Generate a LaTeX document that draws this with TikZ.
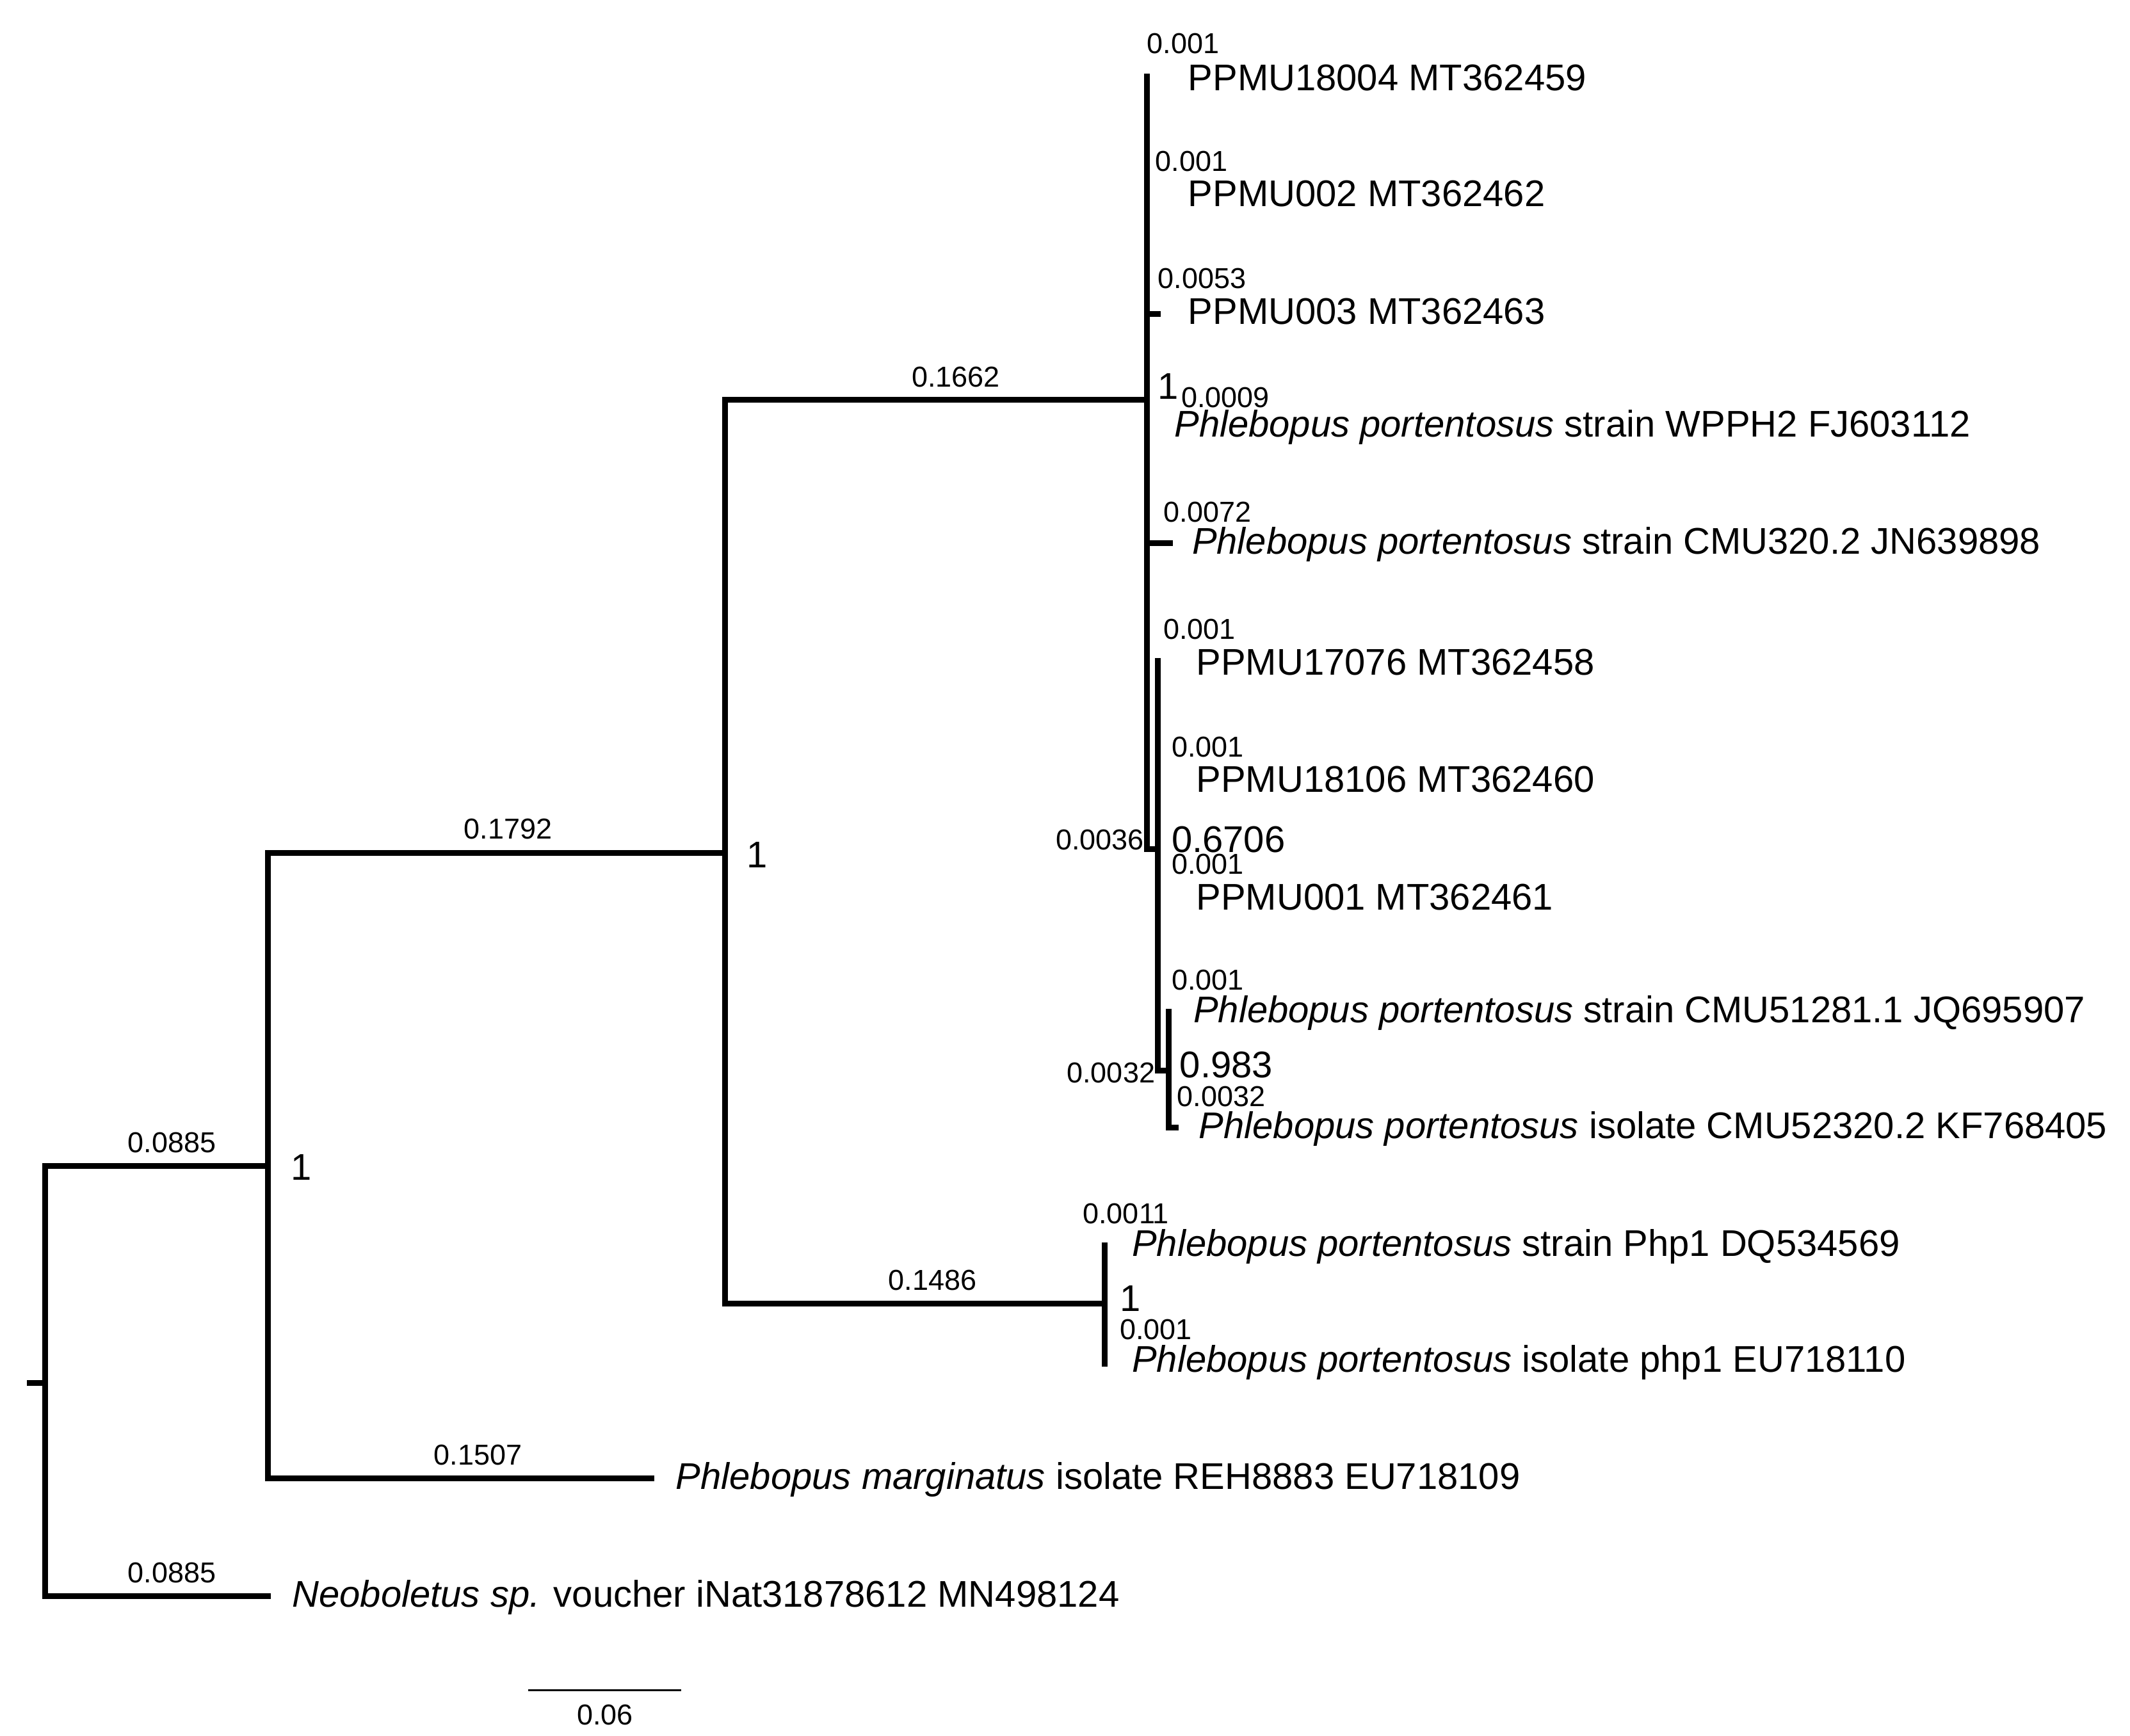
\documentclass[tikz,border=0pt]{standalone}
\usepackage{fontspec}
\setmainfont{Liberation Sans}
\begin{document}
\begin{tikzpicture}[x=2.1327pt,y=-2.1327pt,
  br/.style={line width=9pt,line cap=rect},
  sp/.style={anchor=west,inner sep=0pt,font=\fontsize{58}{62}\selectfont},
  sm/.style={inner sep=0pt,font=\fontsize{45}{48}\selectfont},
  su/.style={anchor=west,inner sep=0pt,font=\fontsize{58}{62}\selectfont}]
\useasboundingbox (0,0) rectangle (1560,1271.6);
% nodes
\coordinate (r) at (33,1013);
\coordinate (A) at (196,854);
\coordinate (B) at (531,625);
\coordinate (P) at (809,955);
\coordinate (C) at (840,293);
\coordinate (D) at (848,622);
\coordinate (E) at (856,784);
% tree
\draw[br] (22,1013) -- (r);
\draw[br] (33,854) -- (33,1169) -- (196,1169);
\draw[br] (33,854) -- (A);
\draw[br] (196,625) -- (196,1083) -- (477,1083);
\draw[br] (196,625) -- (B);
\draw[br] (531,293) -- (531,955) -- (P);
\draw[br] (809,912) -- (809,999);
\draw[br] (531,293) -- (C);
\draw[br] (840,56) -- (840,622) -- (D);
\draw[br] (840,230) -- (848,230);
\draw[br] (840,398) -- (857,398);
\draw[br] (848,484) -- (848,784) -- (E);
\draw[br] (856,741) -- (856,826) -- (861,826);
% species labels
\node[sp] (t1) at (870,57) {PPMU18004 MT362459};
\node[sp] (t2) at (870,142) {PPMU002 MT362462};
\node[sp] (t3) at (870,228) {PPMU003 MT362463};
\node[sp] (t4) at (860,313) {\textit{Phlebopus portentosus} strain WPPH2 FJ603112};
\node[sp] (t5) at (873,399) {\textit{Phlebopus portentosus} strain CMU320.2 JN639898};
\node[sp] (t6) at (876,485) {PPMU17076 MT362458};
\node[sp] (t7) at (876,571) {PPMU18106 MT362460};
\node[sp] (t8) at (876,657) {PPMU001 MT362461};
\node[sp] (t9) at (874,742) {\textit{Phlebopus portentosus} strain CMU51281.1 JQ695907};
\node[sp] (t10) at (878,827) {\textit{Phlebopus portentosus} isolate CMU52320.2 KF768405};
\node[sp] (t11) at (829,913) {\textit{Phlebopus portentosus} strain Php1 DQ534569};
\node[sp] (t12) at (829,998) {\textit{Phlebopus portentosus} isolate php1 EU718110};
\node[sp] (t13) at (495,1084) {\textit{Phlebopus marginatus} isolate REH8883 EU718109};
\node[sp] (t14) at (214,1170) {\textit{Neoboletus sp.} voucher iNat31878612 MN498124};
% tip lengths
\node[sm,anchor=west] (l1) at (840,32) {0.001};
\node[sm,anchor=west] (l2) at (846,118) {0.001};
\node[sm,anchor=west] (l3) at (848,204) {0.0053};
\node[sm,anchor=west] (l4) at (865,291) {0.0009};
\node[sm,anchor=west] (l5) at (852,375) {0.0072};
\node[sm,anchor=west] (l6) at (852,461) {0.001};
\node[sm,anchor=west] (l7) at (858,547) {0.001};
\node[sm,anchor=west] (l8) at (858,633) {0.001};
\node[sm,anchor=west] (l9) at (858,718) {0.001};
\node[sm,anchor=west] (l10) at (862,803) {0.0032};
\node[sm,anchor=west] (l11) at (793,889) {0.0011};
\node[sm,anchor=west] (l12) at (820,974) {0.001};
\node[sm,anchor=east] (l13) at (838,615) {0.0036};
\node[sm,anchor=east] (l14) at (846,786) {0.0032};
% branch lengths
\node[sm] (b1) at (700,276) {0.1662};
\node[sm] (b2) at (372,607) {0.1792};
\node[sm] (b3) at (126,837) {0.0885};
\node[sm] (b4) at (683,938) {0.1486};
\node[sm] (b5) at (350,1066) {0.1507};
\node[sm] (b6) at (126,1152) {0.0885};
% supports
\node[su] (s1) at (848,283) {1};
\node[su] (s2) at (858,615) {0.6706};
\node[su] (s3) at (864,780) {0.983};
\node[su] (s4) at (820,951) {1};
\node[su] (s5) at (547,626) {1};
\node[su] (s6) at (213,855) {1};
% scale bar
\coordinate (sa) at (387,1238);
\coordinate (sb) at (499,1238);
\draw[line width=2.5pt] (sa) -- (sb);
\node[sm] (sl) at (443,1256) {0.06};
\end{tikzpicture}
\end{document}
